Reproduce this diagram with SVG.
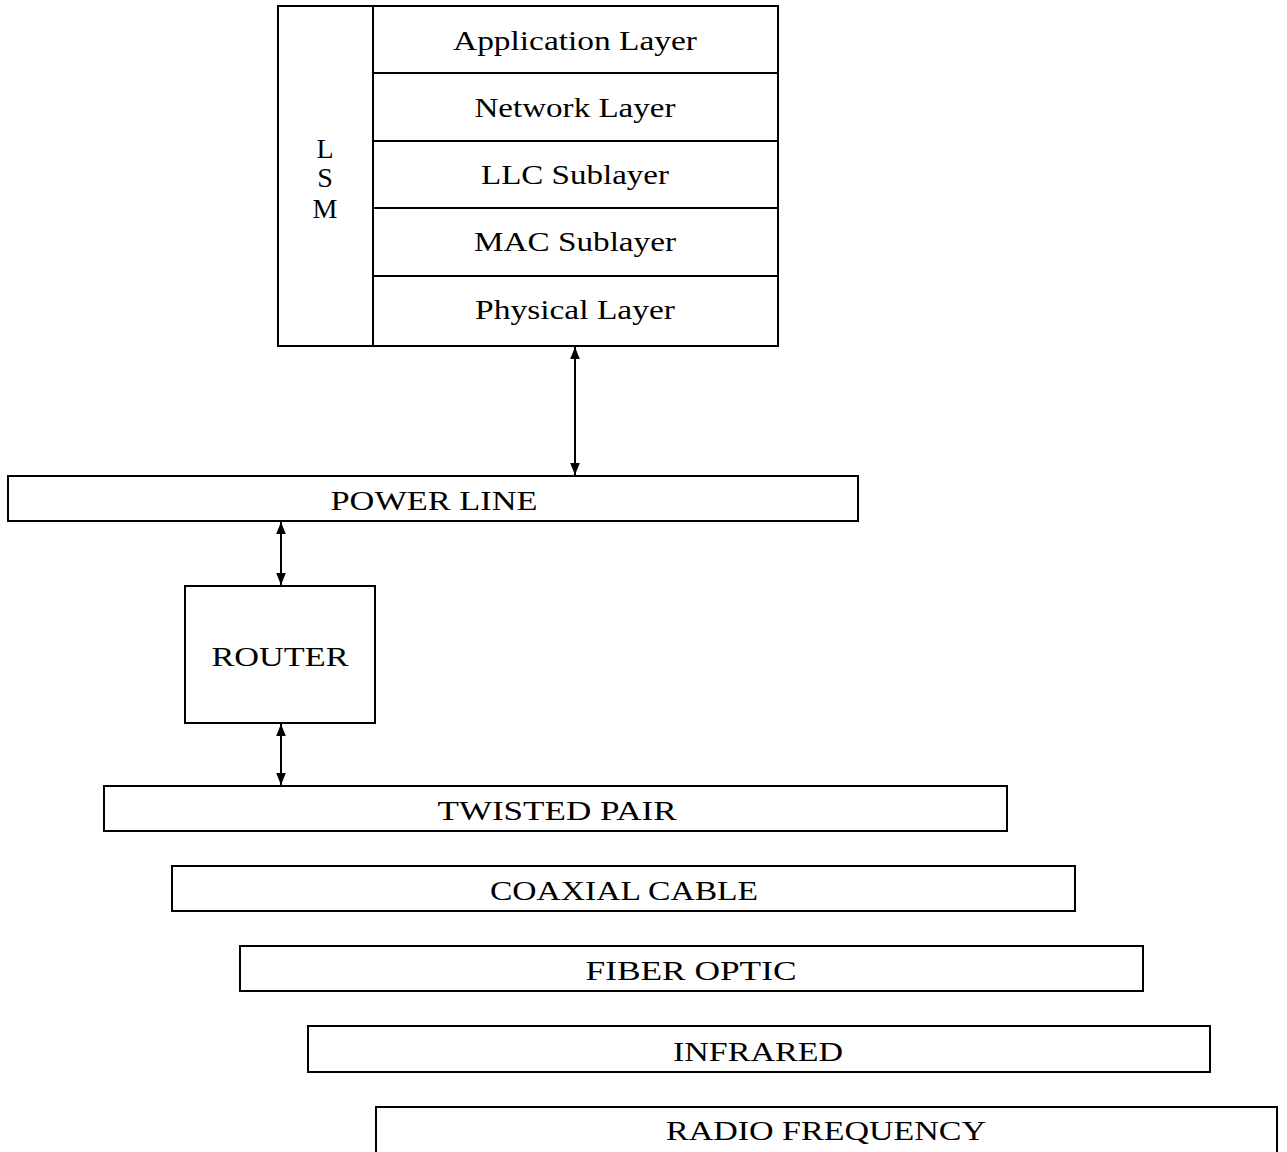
<svg xmlns="http://www.w3.org/2000/svg" width="1287" height="1152" viewBox="0 0 1287 1152">
<style>
.box{fill:#fff;stroke:#000;stroke-width:2}
.t{font-family:"Liberation Serif","Times New Roman",serif;font-size:28px;fill:#000;text-anchor:middle}
.c{stroke:#000;stroke-width:2;fill:none;marker-start:url(#ah);marker-end:url(#ah)}
</style>
<defs>
<marker id="ah" viewBox="0 0 10 10" refX="10" refY="5" markerWidth="6" markerHeight="6" orient="auto-start-reverse" markerUnits="strokeWidth">
<path d="M0,1 L10,5 L0,9 Z" fill="#000"/>
</marker>
</defs>
<rect width="1287" height="1152" fill="#fff"/>
<g id="stack">
<g id="lsm"><rect class="box" x="278" y="6" width="95" height="340"/>
<text class="t" x="325" y="158">L</text><text class="t" x="325" y="187">S</text><text class="t" x="325" y="218">M</text></g>
<g id="app"><rect class="box" x="373" y="6" width="405" height="67"/><text class="t" x="575" y="50" textLength="244" lengthAdjust="spacingAndGlyphs">Application Layer</text></g>
<g id="net"><rect class="box" x="373" y="73" width="405" height="68"/><text class="t" x="575" y="117" textLength="201" lengthAdjust="spacingAndGlyphs">Network Layer</text></g>
<g id="llc"><rect class="box" x="373" y="141" width="405" height="67"/><text class="t" x="575" y="184" textLength="188" lengthAdjust="spacingAndGlyphs">LLC Sublayer</text></g>
<g id="mac"><rect class="box" x="373" y="208" width="405" height="68"/><text class="t" x="575" y="251" textLength="202" lengthAdjust="spacingAndGlyphs">MAC Sublayer</text></g>
<g id="phy"><rect class="box" x="373" y="276" width="405" height="70"/><text class="t" x="575" y="319" textLength="200" lengthAdjust="spacingAndGlyphs">Physical Layer</text></g>
</g>
<g id="power"><rect class="box" x="8" y="476" width="850" height="45"/><text class="t" x="434" y="510" textLength="207" lengthAdjust="spacingAndGlyphs">POWER LINE</text></g>
<g id="router"><rect class="box" x="185" y="586" width="190" height="137"/><text class="t" x="280" y="666" textLength="137" lengthAdjust="spacingAndGlyphs">ROUTER</text></g>
<g id="twisted"><rect class="box" x="104" y="786" width="903" height="45"/><text class="t" x="557" y="820" textLength="239" lengthAdjust="spacingAndGlyphs">TWISTED PAIR</text></g>
<g id="coax"><rect class="box" x="172" y="866" width="903" height="45"/><text class="t" x="624" y="900" textLength="268" lengthAdjust="spacingAndGlyphs">COAXIAL CABLE</text></g>
<g id="fiber"><rect class="box" x="240" y="946" width="903" height="45"/><text class="t" x="691" y="980" textLength="211" lengthAdjust="spacingAndGlyphs">FIBER OPTIC</text></g>
<g id="infrared"><rect class="box" x="308" y="1026" width="902" height="46"/><text class="t" x="758" y="1061" textLength="170" lengthAdjust="spacingAndGlyphs">INFRARED</text></g>
<g id="radio"><rect class="box" x="376" y="1107" width="901" height="50"/><text class="t" x="826" y="1140" textLength="320" lengthAdjust="spacingAndGlyphs">RADIO FREQUENCY</text></g>
<g id="connectors">
<line class="c" x1="575" y1="347" x2="575" y2="475"/>
<line class="c" x1="281" y1="522" x2="281" y2="585"/>
<line class="c" x1="281" y1="724" x2="281" y2="785"/>
</g>
</svg>
